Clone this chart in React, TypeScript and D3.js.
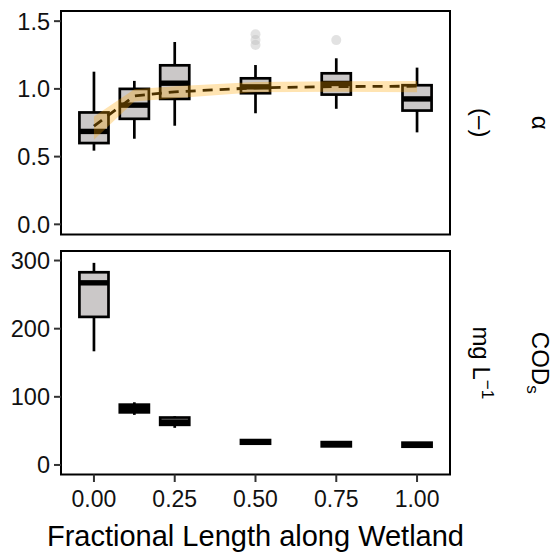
import React, { useEffect, useRef } from 'react';
import * as d3 from 'd3';

// box positions along the wetland and axis ticks
const positions = [0, 0.125, 0.25, 0.5, 0.75, 1];
const xTicks = [0, 0.25, 0.5, 0.75, 1];

// alpha (–) boxplots: whisker low, q1, median, q3, whisker high
const alphaLow = [0.544, 0.632, 0.728, 0.82, 0.853, 0.679];
const alphaQ1 = [0.6, 0.779, 0.926, 0.968, 0.958, 0.84];
const alphaMed = [0.686, 0.88, 1.042, 1.015, 1.04, 0.926];
const alphaQ3 = [0.826, 1.0, 1.174, 1.078, 1.115, 1.027];
const alphaHigh = [1.127, 1.059, 1.346, 1.176, 1.226, 1.157];
const alphaOutliers = [[], [], [], [1.404, 1.36, 1.324], [1.36], []];
// fitted curve and its band
const alphaFit = [0.725, 0.948, 0.978, 1.008, 1.017, 1.02];
const alphaFitLow = [0.625, 0.906, 0.93, 0.975, 0.978, 0.975];
const alphaFitHigh = [0.797, 0.998, 1.02, 1.05, 1.056, 1.058];
const alphaTicks = [0, 0.5, 1, 1.5];

// COD_s (mg/L) boxplots
const codLow = [166.8, 73.5, 54.5, 31, 27, 26.8];
const codQ1 = [217.3, 77.2, 58.9, 31.2, 27.3, 26.8];
const codMed = [267.3, 83, 63, 34, 30.5, 29.5];
const codQ3 = [282.8, 88.5, 69.6, 36.5, 33.5, 32.7];
const codHigh = [296.6, 92, 71.5, 37, 33.5, 32.7];
const codTicks = [0, 100, 200, 300];

const left = 61;
const right = 450;
const font = 'Liberation Sans, Arial, Helvetica, sans-serif';

function App() {
  const ref = useRef<SVGSVGElement>(null);

  useEffect(() => {
    const svg = d3.select(ref.current);
    svg.selectAll('*').remove();

    const x = d3.scaleLinear().domain([-0.102, 1.102]).range([left, right]);
    const bw = 0.09 * (x(1) - x(0));

    const drawPanel = (
      top: number,
      bottom: number,
      domain: [number, number],
      ticks: number[],
      fmt: (d: number) => string,
      lo: number[],
      q1: number[],
      med: number[],
      q3: number[],
      hi: number[],
    ) => {
      const y = d3.scaleLinear().domain(domain).range([bottom, top]);
      const g = svg.append('g');

      const boxes = g
        .selectAll('g.box')
        .data(positions)
        .enter()
        .append('g')
        .attr('class', 'box');

      boxes
        .append('line')
        .attr('x1', (d) => x(d))
        .attr('x2', (d) => x(d))
        .attr('y1', (d, i) => y(hi[i]))
        .attr('y2', (d, i) => y(q3[i]))
        .attr('stroke', '#000')
        .attr('stroke-width', 2.7);
      boxes
        .append('line')
        .attr('x1', (d) => x(d))
        .attr('x2', (d) => x(d))
        .attr('y1', (d, i) => y(q1[i]))
        .attr('y2', (d, i) => y(lo[i]))
        .attr('stroke', '#000')
        .attr('stroke-width', 2.7);
      boxes
        .append('rect')
        .attr('x', (d) => x(d) - bw / 2)
        .attr('y', (d, i) => y(q3[i]))
        .attr('width', bw)
        .attr('height', (d, i) => y(q1[i]) - y(q3[i]))
        .attr('fill', '#cbc8c8')
        .attr('stroke', '#000')
        .attr('stroke-width', 2.7);
      boxes
        .append('line')
        .attr('x1', (d) => x(d) - bw / 2)
        .attr('x2', (d) => x(d) + bw / 2)
        .attr('y1', (d, i) => y(med[i]))
        .attr('y2', (d, i) => y(med[i]))
        .attr('stroke', '#000')
        .attr('stroke-width', 5.4);

      // panel border
      g.append('rect')
        .attr('x', left)
        .attr('y', top)
        .attr('width', right - left)
        .attr('height', bottom - top)
        .attr('fill', 'none')
        .attr('stroke', '#000')
        .attr('stroke-width', 2);

      // y axis
      ticks.forEach((t) => {
        g.append('line')
          .attr('x1', left - 7)
          .attr('x2', left)
          .attr('y1', y(t))
          .attr('y2', y(t))
          .attr('stroke', '#333')
          .attr('stroke-width', 2);
        g.append('text')
          .attr('x', left - 11)
          .attr('y', y(t))
          .attr('dy', '0.36em')
          .attr('text-anchor', 'end')
          .attr('font-size', 23.5)
          .attr('fill', '#111')
          .text(fmt(t));
      });

      return { y, g };
    };

    const topPanel = drawPanel(11, 234.5, [-0.075, 1.575], alphaTicks, d3.format('.1f'),
      alphaLow, alphaQ1, alphaMed, alphaQ3, alphaHigh);
    const yA = topPanel.y;

    // outliers
    positions.forEach((p, i) => {
      alphaOutliers[i].forEach((v) => {
        topPanel.g
          .append('circle')
          .attr('cx', x(p))
          .attr('cy', yA(v))
          .attr('r', 5)
          .attr('fill', '#bfbfbf')
          .attr('fill-opacity', 0.45);
      });
    });

    const fitLine = d3
      .line<number>()
      .x((d, i) => x(positions[i]))
      .y((d) => yA(d));
    topPanel.g
      .append('path')
      .attr('d', fitLine(alphaFit))
      .attr('fill', 'none')
      .attr('stroke', '#000')
      .attr('stroke-width', 2.8)
      .attr('stroke-dasharray', '10 7');

    const band = d3
      .area<number>()
      .x((d, i) => x(positions[i]))
      .y0((d, i) => yA(alphaFitLow[i]))
      .y1((d, i) => yA(alphaFitHigh[i]));
    topPanel.g
      .append('path')
      .attr('d', band(positions))
      .attr('fill', 'orange')
      .attr('fill-opacity', 0.3);

    const bottomPanel = drawPanel(251, 474.5, [-14, 314], codTicks, d3.format('d'),
      codLow, codQ1, codMed, codQ3, codHigh);

    // x axis on bottom panel
    xTicks.forEach((t) => {
      bottomPanel.g
        .append('line')
        .attr('x1', x(t))
        .attr('x2', x(t))
        .attr('y1', 474.5)
        .attr('y2', 482)
        .attr('stroke', '#333')
        .attr('stroke-width', 2);
      bottomPanel.g
        .append('text')
        .attr('x', x(t))
        .attr('y', 507)
        .attr('text-anchor', 'middle')
        .attr('font-size', 23)
        .attr('fill', '#111')
        .text(d3.format('.2f')(t));
    });

    svg
      .append('text')
      .attr('x', (left + right) / 2)
      .attr('y', 546)
      .attr('text-anchor', 'middle')
      .attr('font-size', 29)
      .attr('fill', '#000')
      .text('Fractional Length along Wetland');

    // strip labels on the right (rotated)
    const strip = (xb: number, yc: number) =>
      svg
        .append('text')
        .attr('transform', `translate(${xb},${yc}) rotate(90)`)
        .attr('text-anchor', 'middle')
        .attr('font-size', 24)
        .attr('fill', '#000');

    const yTopC = (11 + 234.5) / 2;
    const yBotC = (251 + 474.5) / 2;
    strip(532, yTopC).text('α');
    strip(473, yTopC).text('(–)');

    const cod = strip(532, yBotC);
    cod.append('tspan').text('COD');
    cod.append('tspan').attr('dy', 5).attr('font-size', 17).text('s');

    const mg = strip(473, yBotC);
    mg.append('tspan').text('mg L');
    mg.append('tspan').attr('dy', -9).attr('font-size', 17).text('−1');
  }, []);

  return (
    <svg
      ref={ref}
      width={556}
      height={555}
      style={{ position: 'absolute', left: 0, top: 0, background: '#fff', fontFamily: font }}
    />
  );
}

export default App;
